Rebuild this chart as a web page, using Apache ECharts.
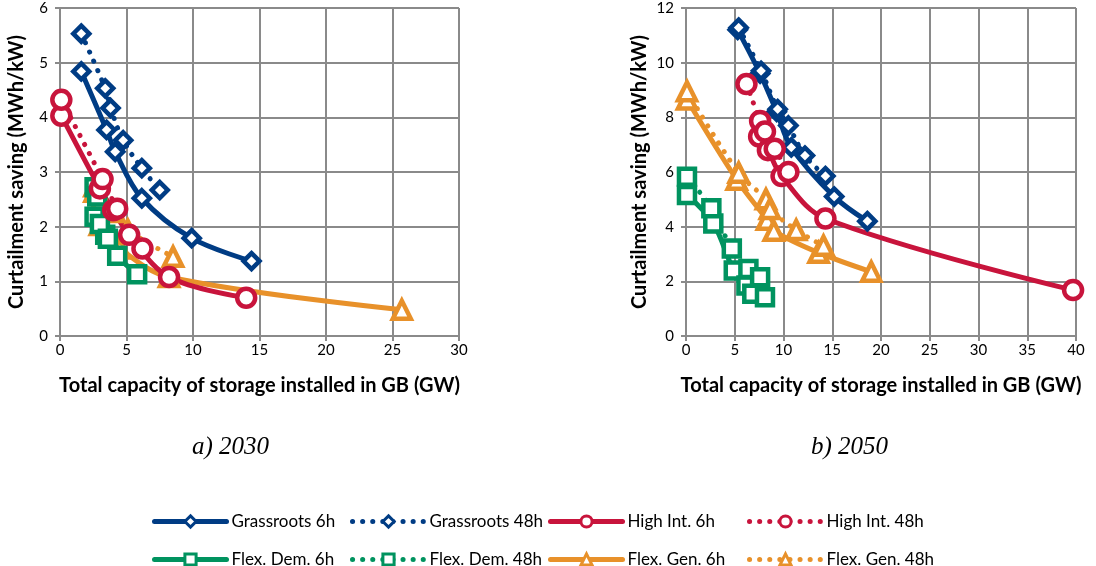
<!DOCTYPE html>
<html><head><meta charset="utf-8">
<script src="https://cdn.jsdelivr.net/npm/echarts@6/dist/echarts.min.js"></script>
<style>html,body{margin:0;padding:0;background:#fff}#c{width:1096px;height:566px}</style>
</head><body><div id="c"></div>
<script>
// ---- 2030 data [GW, MWh/kW] ----
const gr6_2030 = [[1.6,4.84],[3.5,3.77],[4.15,3.37],[6.15,2.52],[9.9,1.79],[14.4,1.37]];
const gr48_2030 = [[1.6,5.53],[3.4,4.53],[3.8,4.17],[4.75,3.58],[6.15,3.07],[7.5,2.67]];
const hi6_2030 = [[0.1,4.03],[3.0,2.7],[4.0,2.3],[5.2,1.85],[8.2,1.08],[14.0,0.7]];
const hi48_2030 = [[0.1,4.32],[3.2,2.87],[4.3,2.33],[6.2,1.6]];
const fd6_2030 = [[2.6,2.72],[2.6,2.18],[3.4,1.85],[4.3,1.47],[5.8,1.13]];
const fd48_2030 = [[2.8,2.55],[3.0,2.05],[3.6,1.78]];
const fg6_2030 = [[2.6,2.64],[3.0,2.03],[4.5,1.6],[8.2,1.08],[25.7,0.48]];
const fg48_2030 = [[2.6,2.74],[3.1,2.49],[4.1,2.27],[5.1,1.94],[8.5,1.45]];
// ---- 2050 data ----
const gr6_2050 = [[5.3,11.2],[7.6,9.6],[9.3,8.2],[10.8,6.9],[15.2,5.1],[18.6,4.2]];
const gr48_2050 = [[5.4,11.28],[7.7,9.7],[9.4,8.3],[10.5,7.7],[12.2,6.6],[14.3,5.85]];
const hi6_2050 = [[7.5,7.3],[8.4,6.8],[9.8,5.85],[14.3,4.3],[39.7,1.68]];
const hi48_2050 = [[6.2,9.22],[7.6,7.87],[8.1,7.48],[9.1,6.85],[10.5,6.0]];
const fd6_2050 = [[0.1,5.16],[2.8,4.12],[4.9,2.4],[6.2,1.85],[6.8,1.55],[8.1,1.42]];
const fd48_2050 = [[0.1,5.83],[2.6,4.67],[4.7,3.2],[6.4,2.45],[7.6,2.15]];
const fg6_2050 = [[0.1,8.65],[5.2,5.72],[8.3,4.25],[9.0,3.85],[13.6,3.05],[19.0,2.35]];
const fg48_2050 = [[0.1,8.95],[5.4,5.97],[8.2,5.0],[8.6,4.65],[11.3,3.88],[14.1,3.3]];

const names = ['Grassroots 6h','Grassroots 48h','High Int. 6h','High Int. 48h','Flex. Dem. 6h','Flex. Dem. 48h','Flex. Gen. 6h','Flex. Gen. 48h'];
const captions = ['a) 2030','b) 2050'];

const C = {gr:'#003C84', hi:'#C8143C', fd:'#00935F', fg:'#E8912A'};
const SYM = {gr:'diamond', hi:'circle', fd:'rect', fg:'triangle'};
const SZ = {gr:16, hi:18, fd:16, fg:18};

function mk(name, key, data, dotted, g){
  return {
    name, type:'line', xAxisIndex:g, yAxisIndex:g, data, smooth:0.35,
    symbol: SYM[key], symbolSize: SZ[key], showSymbol:true,
    lineStyle:{color:C[key], width:5, type: dotted ? [0.1,10] : 'solid', cap:'round'},
    itemStyle:{color:'#fff', borderColor:C[key], borderWidth:4.5},
    emphasis:{disabled:true}, animation:false
  };
}
const series = [
  mk(names[0],'gr',gr6_2030,false,0), mk(names[1],'gr',gr48_2030,true,0),
  mk(names[6],'fg',fg6_2030,false,0), mk(names[7],'fg',fg48_2030,true,0),
  mk(names[4],'fd',fd6_2030,false,0), mk(names[5],'fd',fd48_2030,true,0),
  mk(names[2],'hi',hi6_2030,false,0), mk(names[3],'hi',hi48_2030,true,0),
  mk(names[0],'gr',gr6_2050,false,1), mk(names[1],'gr',gr48_2050,true,1),
  mk(names[6],'fg',fg6_2050,false,1), mk(names[7],'fg',fg48_2050,true,1),
  mk(names[4],'fd',fd6_2050,false,1), mk(names[5],'fd',fd48_2050,true,1),
  mk(names[2],'hi',hi6_2050,false,1), mk(names[3],'hi',hi48_2050,true,1),
];

const axFont = {fontFamily:'Lato', fontSize:15, color:'#000'};
const nameFont = {fontFamily:'Lato', fontSize:20, fontWeight:'bold', color:'#000'};
const gridLine = {show:true, lineStyle:{color:'#8a8a8a', width:2}};
const axLine = {show:true, lineStyle:{color:'#8a8a8a', width:2}};

function xa(g,max){
  return {gridIndex:g, type:'value', min:0, max, interval:5,
    name:'Total capacity of storage installed in GB (GW)', nameLocation:'middle', nameGap:40, nameTextStyle:nameFont,
    axisLine:axLine, axisTick:{show:true, length:5, lineStyle:{color:'#8a8a8a', width:2}},
    splitLine:gridLine, axisLabel:Object.assign({margin:7}, axFont)};
}
function ya(g,max,int){
  return {gridIndex:g, type:'value', min:0, max, interval:int,
    name:'Curtailment saving (MWh/kW)', nameLocation:'middle', nameGap:g?36:33, nameTextStyle:nameFont,
    axisLine:axLine, axisTick:{show:true, length:5, lineStyle:{color:'#8a8a8a', width:2}},
    splitLine:gridLine, axisLabel:Object.assign({margin:12}, axFont)};
}

const legendPos = [[147,508],[345,508],[543,508],[742,508],[147,546],[345,546],[543,546],[742,546]];
const legends = names.map((n,i)=>({data:[n], left:legendPos[i][0], top:legendPos[i][1], itemWidth:72, itemHeight:14,
  itemGap:0, lineStyle:{width:5}, itemStyle:{borderWidth:3},
  textStyle:{fontFamily:'Lato', fontSize:17, color:'#000', padding:[0,0,0,0]}, selectedMode:false}));

const chart = echarts.init(document.getElementById('c'), null, {renderer:'canvas'});
chart.setOption({
  animation:false,
  grid:[{left:60, top:8, width:399, height:328},{left:686, top:8, width:390, height:328}],
  xAxis:[xa(0,30), xa(1,40)],
  yAxis:[ya(0,6,1), ya(1,12,2)],
  legend: legends,
  series,
  graphic:[
    {type:'text', left:192, top:435, style:{text:captions[0], font:'italic 25px "Liberation Serif"', fill:'#000'}},
    {type:'text', left:811, top:435, style:{text:captions[1], font:'italic 25px "Liberation Serif"', fill:'#000'}}
  ]
});
</script></body></html>
